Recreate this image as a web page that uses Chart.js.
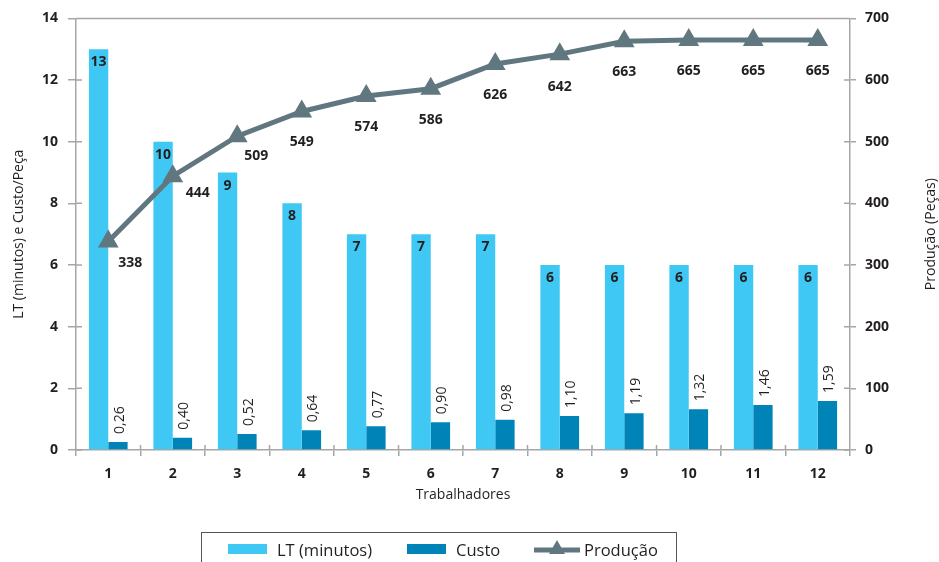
<!DOCTYPE html>
<html>
<head>
<meta charset="utf-8">
<script src="https://cdn.jsdelivr.net/npm/chart.js@4/dist/chart.umd.min.js"></script>
<style>
  body { margin: 0; background: #fff; font-family: "Open Sans", sans-serif; }
  #wrap { position: relative; width: 939px; height: 562px; overflow: hidden; }
  #legend {
    position: absolute; left: 201px; top: 532px; width: 476px; height: 40px;
    border: 1.5px solid #555; box-sizing: border-box;
    font-size: 16.5px; color: #231f20;
  }
  .item { position: absolute; top: 5px; display: flex; align-items: center; height: 22px; }
  .sw { width: 39px; height: 10px; margin-right: 10px; }
</style>
</head>
<body>
<div id="wrap">
  <canvas id="grafico" width="939" height="562"></canvas>
  <div id="legend">
    <div class="item" style="left:26px"><span class="sw" style="background:#40c8f4"></span>LT (minutos)</div>
    <div class="item" style="left:205px"><span class="sw" style="background:#0083b7"></span>Custo</div>
    <div class="item" style="left:332px"><canvas id="legLinha" width="46" height="22" style="margin-right:4px"></canvas>Produção</div>
  </div>
</div>
<script>
const trabalhadores = ['1', '2', '3', '4', '5', '6', '7', '8', '9', '10', '11', '12'];
const leadTime = [13, 10, 9, 8, 7, 7, 7, 6, 6, 6, 6, 6];
const custo = [0.26, 0.40, 0.52, 0.64, 0.77, 0.90, 0.98, 1.10, 1.19, 1.32, 1.46, 1.59];
const producao = [338, 444, 509, 549, 574, 586, 626, 642, 663, 665, 665, 665];

const corLT = '#40c8f4';
const corCusto = '#0083b7';
const corLinha = '#617780';
const corEixo = '#a6a6a6';
const corTexto = '#231f20';

// deslocamento dos rótulos da linha (px)
const rotuloDx = [22, 25, 19, 0, 0, 0, 0, 0, 0, 0, 0, 0];
const rotuloDy = [21, 17, 20, 31, 31, 31, 31, 33, 31, 31, 31, 31];

const fmt = v => v.toFixed(2).replace('.', ',');

const rotulos = {
  id: 'rotulos',
  afterDatasetsDraw(chart) {
    const ctx = chart.ctx;
    ctx.save();
    ctx.fillStyle = corTexto;
    ctx.textAlign = 'center';
    ctx.textBaseline = 'middle';

    ctx.font = 'bold 14px "Open Sans"';
    chart.getDatasetMeta(0).data.forEach((bar, i) => {
      ctx.fillText(leadTime[i], bar.x, bar.y + 13);
    });

    ctx.font = '500 14px "Open Sans"';
    chart.getDatasetMeta(1).data.forEach((bar, i) => {
      ctx.save();
      ctx.translate(bar.x + 2, bar.y - 8);
      ctx.rotate(-Math.PI / 2);
      ctx.textAlign = 'left';
      ctx.fillText(fmt(custo[i]), 0, 0);
      ctx.restore();
    });

    ctx.font = 'bold 14px "Open Sans"';
    chart.getDatasetMeta(2).data.forEach((pt, i) => {
      ctx.fillText(producao[i], pt.x + rotuloDx[i], pt.y + rotuloDy[i]);
    });
    ctx.restore();
  },
  afterDraw(chart) {
    const { ctx, chartArea: a, scales } = chart;
    ctx.save();
    ctx.strokeStyle = corEixo;
    ctx.lineWidth = 1.5;
    ctx.beginPath();
    ctx.moveTo(a.left, a.top);
    ctx.lineTo(a.right, a.top);
    // marcas internas dos eixos
    scales.y.ticks.forEach(t => {
      const py = scales.y.getPixelForValue(t.value);
      ctx.moveTo(a.left, py); ctx.lineTo(a.left + 6, py);
    });
    scales.y1.ticks.forEach(t => {
      const py = scales.y1.getPixelForValue(t.value);
      ctx.moveTo(a.right, py); ctx.lineTo(a.right - 6, py);
    });
    for (let i = 1; i < trabalhadores.length; i++) {
      const px = (scales.x.getPixelForTick(i - 1) + scales.x.getPixelForTick(i)) / 2;
      ctx.moveTo(px, a.bottom); ctx.lineTo(px, a.bottom - 5);
    }
    ctx.stroke();

    // título do eixo direito, lido de baixo para cima
    ctx.fillStyle = corTexto;
    ctx.font = '14px "Open Sans"';
    ctx.textAlign = 'center';
    ctx.textBaseline = 'middle';
    ctx.translate(931, (a.top + a.bottom) / 2);
    ctx.rotate(-Math.PI / 2);
    ctx.fillText('Produção (Peças)', 0, 0);
    ctx.restore();
  }
};

new Chart(document.getElementById('grafico'), {
  data: {
    labels: trabalhadores,
    datasets: [
      { type: 'bar', label: 'LT (minutos)', data: leadTime, backgroundColor: corLT, yAxisID: 'y', order: 1,
        categoryPercentage: 0.6, barPercentage: 1 },
      { type: 'bar', label: 'Custo', data: custo, backgroundColor: corCusto, yAxisID: 'y', order: 1,
        categoryPercentage: 0.6, barPercentage: 1 },
      { type: 'line', label: 'Produção', data: producao, yAxisID: 'y1', order: 0,
        borderColor: corLinha, borderWidth: 5, backgroundColor: corLinha,
        pointStyle: 'triangle', pointRadius: 12, pointBorderWidth: 0, tension: 0 }
    ]
  },
  options: {
    responsive: false,
    animation: false,
    layout: { padding: { left: 7, right: 0, top: 18, bottom: 55 } },
    plugins: { legend: { display: false }, tooltip: { enabled: false } },
    scales: {
      x: {
        grid: { drawOnChartArea: false, color: corEixo, tickLength: 6, lineWidth: 1.5 },
        border: { color: corEixo, width: 1.5 },
        ticks: { color: corTexto, font: { family: 'Open Sans', size: 14, weight: 'bold' }, padding: 10 },
        title: { display: true, text: 'Trabalhadores', color: corTexto, font: { family: 'Open Sans', size: 14 } },
        afterFit: s => { s.height = 57; }
      },
      y: {
        position: 'left', min: 0, max: 14,
        grid: { drawOnChartArea: false, color: corEixo, tickLength: 8, lineWidth: 1.5 },
        border: { color: corEixo, width: 1.5 },
        ticks: { stepSize: 2, color: corTexto, font: { family: 'Open Sans', size: 14, weight: 'bold' }, padding: 10 },
        title: { display: true, text: 'LT (minutos) e Custo/Peça', color: corTexto, font: { family: 'Open Sans', size: 14 } },
        afterFit: s => { s.width = 69; }
      },
      y1: {
        position: 'right', min: 0, max: 700,
        grid: { drawOnChartArea: false, color: corEixo, tickLength: 6, lineWidth: 1.5 },
        border: { color: corEixo, width: 1.5 },
        ticks: { stepSize: 100, color: corTexto, font: { family: 'Open Sans', size: 14, weight: 'bold' }, padding: 9 },
        afterFit: s => { s.width = 89; }
      }
    }
  },
  plugins: [rotulos]
});

// símbolo da linha na legenda
const lg = document.getElementById('legLinha').getContext('2d');
lg.strokeStyle = corLinha;
lg.lineWidth = 5;
lg.beginPath(); lg.moveTo(0, 12); lg.lineTo(46, 12); lg.stroke();
lg.fillStyle = corLinha;
lg.beginPath(); lg.moveTo(23, 2); lg.lineTo(31, 16); lg.lineTo(15, 16); lg.closePath(); lg.fill();
</script>
</body>
</html>
